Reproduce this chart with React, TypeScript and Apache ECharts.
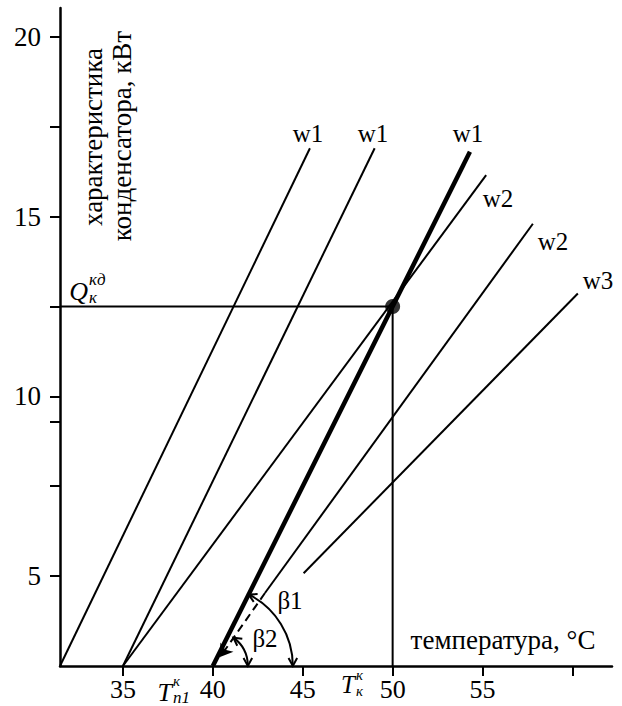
import React, { useEffect, useRef } from "react";
import * as echarts from "echarts";

// axis ticks / labels
const xTicks = [35, 40, 45, 50, 55, 60];
const xLabels = [35, 40, 45, 50, 55];
const yTicks = [5, 7.5, 9.3, 10, 12.5, 15, 17.5, 20];
const yLabels = [5, 10, 15, 20];

// characteristic lines [temperature, kW]
const w1a = [[31.5, 2.5], [45.4, 16.9]];
const w1b = [[35, 2.5], [49.0, 16.9]];
const w1c = [[40, 2.5], [54.3, 16.8]];
const w2a = [[35, 2.5], [55.2, 16.15]];
const w2b = [[42.9, 4.53], [57.8, 14.8]];
const w2bDash = [[42.9, 4.53], [40.4, 2.75]];
const w3 = [[45.05, 5.08], [60.3, 12.86]];

const qLevel = 12.5;
const tK = 50;
const xMin = 31.5;
const yMin = 2.5;
const qH = [[xMin, qLevel], [tK, qLevel]];
const qV = [[tK, qLevel], [tK, yMin]];
const workPoint = [[tK, qLevel]];
const origin = [40, 2.5];

const FONT = "'Liberation Serif', 'Times New Roman', serif";

function lineSeries(data: number[][], width: number) {
  return {
    type: "line",
    data,
    showSymbol: false,
    symbol: "none",
    lineStyle: { color: "#000", width },
    silent: true,
  };
}

export default function App() {
  const ref = useRef<HTMLDivElement>(null);
  useEffect(() => {
    document.body.style.margin = "0";
    const chart = echarts.init(ref.current!, null, { renderer: "svg" });
    const option: any = {
      animation: false,
      backgroundColor: "#fff",
      grid: { left: 60, right: 10, top: 8, bottom: 40 },
      xAxis: {
        type: "value",
        min: 31.5,
        max: 62.2,
        splitLine: { show: false },
        axisLine: { show: true, onZero: false, lineStyle: { color: "#000", width: 2.5 } },
        axisTick: { show: true, length: 10, customValues: xTicks, lineStyle: { color: "#000", width: 2 } },
        axisLabel: {
          customValues: xLabels,
          margin: 10,
          color: "#000",
          fontFamily: FONT,
          fontSize: 26,
        },
      },
      yAxis: {
        type: "value",
        min: 2.5,
        max: 20.8,
        splitLine: { show: false },
        axisLine: { show: true, onZero: false, lineStyle: { color: "#000", width: 2.5 } },
        axisTick: { show: true, length: 10, customValues: yTicks, lineStyle: { color: "#000", width: 2 } },
        axisLabel: {
          customValues: yLabels,
          margin: 19,
          color: "#000",
          fontFamily: FONT,
          fontSize: 27,
        },
      },
      series: [
        lineSeries(w1a, 2),
        lineSeries(w1b, 2),
        lineSeries(w2a, 2),
        lineSeries(w2b, 2),
        lineSeries(w3, 2),
        lineSeries(qH, 2),
        lineSeries(qV, 2),
        lineSeries(w1c, 4.5),
        {
          type: "lines",
          coordinateSystem: "cartesian2d",
          data: [{ coords: w2bDash }],
          symbol: ["none", "arrow"],
          symbolSize: 12,
          lineStyle: { color: "#000", width: 2, type: [8, 5], opacity: 1 },
          silent: true,
        },
        {
          type: "scatter",
          data: workPoint,
          symbol: "circle",
          symbolSize: 15,
          itemStyle: { color: "#000" },
          z: 10,
          silent: true,
        },
      ],
    };
    chart.setOption(option);

    const px = (p: number[]) => chart.convertToPixel({ gridIndex: 0 }, p) as number[];
    const o = px(origin);
    const pThick = px(w1c[1]);
    const aThick = Math.atan2(pThick[1] - o[1], pThick[0] - o[0]);
    const pa = px(w2b[0]);
    const pb = px(w2b[1]);
    const aW2 = Math.atan2(pb[1] - pa[1], pb[0] - pa[0]);

    const arrowV = (tip: number[], d: number[], len = 9, spread = 0.5) => {
      const pts: number[][] = [];
      for (const s of [spread, -spread]) {
        const c = Math.cos(s), sn = Math.sin(s);
        const bx = -(d[0] * c - d[1] * sn);
        const by = -(d[0] * sn + d[1] * c);
        pts.push([tip[0] + bx * len, tip[1] + by * len]);
      }
      return {
        type: "polyline",
        shape: { points: [pts[0], tip, pts[1]] },
        style: { stroke: "#000", lineWidth: 2, fill: null },
        silent: true,
      };
    };
    const arcWithArrows = (r: number, a0: number) => {
      const els: any[] = [
        {
          type: "arc",
          shape: { cx: o[0], cy: o[1], r, startAngle: a0, endAngle: 0, clockwise: true },
          style: { stroke: "#000", lineWidth: 2, fill: null },
          silent: true,
        },
      ];
      els.push(arrowV([o[0] + r, o[1]], [0, 1]));
      const tip = [o[0] + r * Math.cos(a0), o[1] + r * Math.sin(a0)];
      els.push(arrowV(tip, [Math.sin(a0), -Math.cos(a0)]));
      return els;
    };

    const txt = (text: string, x: number, y: number, extra: any = {}) => ({
      type: "text",
      x,
      y,
      silent: true,
      style: {
        text,
        fill: "#000",
        font: `25px ${FONT}`,
        align: "center",
        verticalAlign: "middle",
        ...extra,
      },
    });
    const ital = (size: number) => `italic ${size}px ${FONT}`;
    const f27 = { font: `27px ${FONT}` };

    chart.setOption({
      graphic: [
        ...arcWithArrows(80, aThick),
        ...arcWithArrows(35, aW2),
        { ...txt("характеристика", 93, 137, f27), rotation: Math.PI / 2 },
        { ...txt("конденсатора, кВт", 122, 136, f27), rotation: Math.PI / 2 },
        txt("w1", 308, 133),
        txt("w1", 373, 133),
        txt("w1", 468, 133),
        txt("w2", 498, 198),
        txt("w2", 553, 241),
        txt("w3", 598, 280),
        txt("β1", 290, 600),
        txt("β2", 265, 638),
        txt("температура, °C", 503, 640, f27),
        txt("Q", 88, 291, { font: ital(26), align: "right" }),
        txt("кд", 89, 288, { font: ital(17), align: "left", verticalAlign: "bottom" }),
        txt("к", 89, 289, { font: ital(17), align: "left", verticalAlign: "top" }),
        txt("T", 172, 692, { font: ital(26), align: "right" }),
        txt("к", 173, 688, { font: ital(15), align: "left", verticalAlign: "bottom" }),
        txt("n1", 173, 689, { font: ital(17), align: "left", verticalAlign: "top" }),
        txt("T", 355, 684, { font: ital(25), align: "right" }),
        txt("к", 356, 682, { font: ital(15), align: "left", verticalAlign: "bottom" }),
        txt("к", 356, 683, { font: ital(15), align: "left", verticalAlign: "top" }),
      ],
    });
    return () => chart.dispose();
  }, []);
  return <div ref={ref} style={{ width: 622, height: 706 }} />;
}
